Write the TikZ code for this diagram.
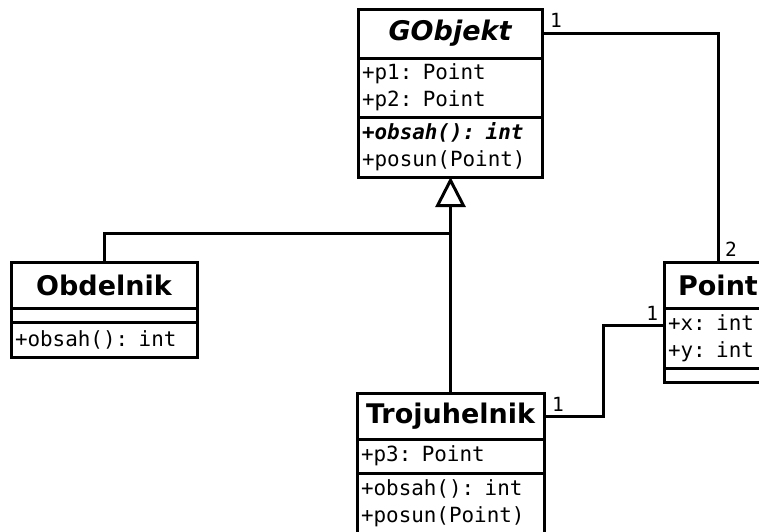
\documentclass[tikz,border=0pt]{standalone}
\usepackage{fontspec}
\usetikzlibrary{positioning,arrows.meta}
\newfontfamily\umlsans{DejaVu Sans}
\newfontfamily\umlmono{DejaVu Sans Mono}

\begin{document}
\begin{tikzpicture}[x=1pt, y=-1pt, node distance=0 cm, outer sep=0pt, line width=3pt]

\tikzstyle{head}=[draw, rectangle, inner sep=0pt, font=\umlsans\bfseries\fontsize{27}{31}\selectfont]
\tikzstyle{part}=[draw, rectangle, inner xsep=4pt, inner ysep=0pt, align=left, font=\umlmono\fontsize{20.9}{27}\selectfont]
\tikzstyle{mult}=[inner sep=0pt, font=\umlmono\fontsize{19.5}{22}\selectfont]

\useasboundingbox (0,0) rectangle (759,531);
\clip (0,0) rectangle (759,531);

% GObjekt
\node[head, minimum width=184pt, minimum height=49pt, anchor=north west] (gobT) at (358,9) {\itshape GObjekt};
\node[part, text width=176pt, minimum height=59pt, below=of gobT] (gobA) {+p1: Point\\+p2: Point};
\node[part, text width=176pt, minimum height=60pt, below=of gobA] (gobM) {{\bfseries\itshape +obsah(): int}\\+posun(Point)};

% Obdelnik
\node[head, minimum width=186pt, minimum height=46pt, anchor=north west] (obT) at (11,262) {Obdelnik};
\node[part, text width=178pt, minimum height=14pt, below=of obT] (obA) {};
\node[part, text width=178pt, minimum height=35pt, below=of obA] (obM) {+obsah(): int};

% Trojuhelnik
\node[head, minimum width=187pt, minimum height=46pt, anchor=north west] (troT) at (357,393) {Trojuhelnik};
\node[part, text width=179pt, minimum height=34pt, below=of troT] (troA) {+p3: Point};
\node[part, text width=179pt, minimum height=60pt, below=of troA] (troM) {+obsah(): int\\+posun(Point)};

% Point
\node[head, minimum width=108pt, minimum height=46pt, anchor=north west] (ptT) at (664,262) {Point};
\node[part, text width=100pt, minimum height=60pt, below=of ptT] (ptA) {+x: int\\+y: int};
\node[part, text width=100pt, minimum height=14pt, below=of ptA] (ptM) {};

% associations
\draw (gobT.east) node[mult, anchor=south west, xshift=8pt, yshift=6pt] {1} -| (ptT.north) node[mult, anchor=south west, xshift=7pt, yshift=6pt] {2};
\draw (troT.east) node[mult, anchor=south west, xshift=8pt, yshift=5pt] {1} -- ++(59,0) |- ([yshift=13pt]ptA.west) node[mult, anchor=south east, xshift=-6pt, yshift=5pt] {1};

% inheritance
\coordinate (jn) at (450,233);
\draw[-{Triangle[open, length=30pt, width=30pt]}] (troT.north) -- (troT.north |- gobM.south);
\draw (obT.north) |- (jn);

\end{tikzpicture}
\end{document}
